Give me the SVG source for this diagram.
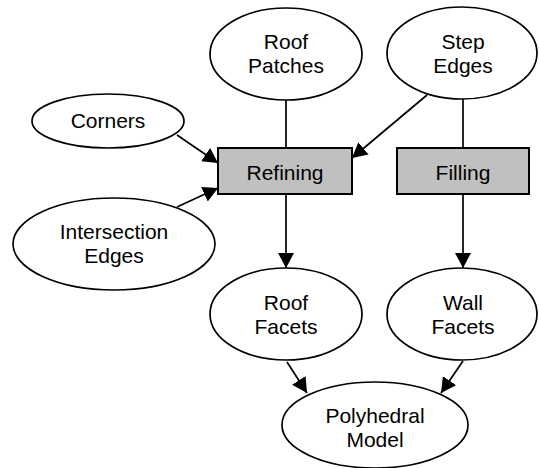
<svg xmlns="http://www.w3.org/2000/svg" width="539" height="468" viewBox="0 0 539 468">
<style>
.n ellipse{fill:#fff;stroke:#000;stroke-width:1.7}
.n rect{fill:#c0c0c0;stroke:#000;stroke-width:2}
.n text{font-family:"Liberation Sans",Arial,sans-serif;font-size:21px;text-anchor:middle;fill:#000}
#edges line{stroke:#000;stroke-width:1.7}
.a{marker-end:url(#ah)}
</style>
<defs>
<marker id="ah" markerUnits="userSpaceOnUse" markerWidth="17" markerHeight="17" refX="15" refY="8" orient="auto">
<path d="M0,0 L15,8 L0,16 z" fill="#000"/>
</marker>
</defs>
<g id="edges">
<line x1="286" y1="100" x2="286" y2="148"/>
<line x1="463" y1="99" x2="463" y2="148"/>
<line class="a" x1="427" y1="95" x2="352" y2="158"/>
<line class="a" x1="177" y1="135" x2="218" y2="163"/>
<line class="a" x1="177" y1="207" x2="218" y2="188"/>
<line class="a" x1="286" y1="194" x2="286" y2="268"/>
<line class="a" x1="463" y1="194" x2="463" y2="268"/>
<line class="a" x1="287" y1="362" x2="307" y2="393"/>
<line class="a" x1="463" y1="361" x2="441" y2="393"/>
</g>
<g id="roof-patches" class="n"><ellipse cx="286" cy="54" rx="76" ry="46"/><text x="286" y="49">Roof</text><text x="286" y="73">Patches</text></g>
<g id="step-edges" class="n"><ellipse cx="462" cy="53" rx="75" ry="46"/><text x="463" y="49">Step</text><text x="463" y="73">Edges</text></g>
<g id="corners" class="n"><ellipse cx="108" cy="121" rx="76" ry="27"/><text x="108" y="128">Corners</text></g>
<g id="intersection-edges" class="n"><ellipse cx="114" cy="244" rx="101" ry="46"/><text x="114" y="239">Intersection</text><text x="114" y="263">Edges</text></g>
<g id="refining" class="n"><rect x="218" y="148" width="134" height="46"/><text x="285" y="180">Refining</text></g>
<g id="filling" class="n"><rect x="397" y="148" width="132" height="46"/><text x="463" y="180">Filling</text></g>
<g id="roof-facets" class="n"><ellipse cx="286" cy="314" rx="76" ry="46"/><text x="286" y="310">Roof</text><text x="286" y="334">Facets</text></g>
<g id="wall-facets" class="n"><ellipse cx="462" cy="314" rx="75" ry="46"/><text x="463" y="310">Wall</text><text x="463" y="334">Facets</text></g>
<g id="polyhedral-model" class="n"><ellipse cx="375" cy="425" rx="93" ry="43"/><text x="375" y="423">Polyhedral</text><text x="375" y="447">Model</text></g>
</svg>
